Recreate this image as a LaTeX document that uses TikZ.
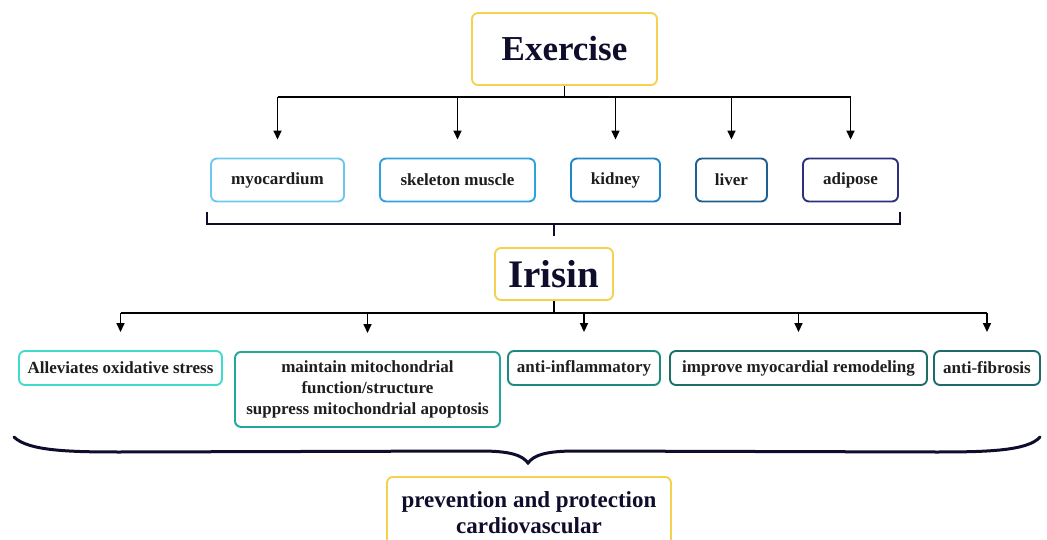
\documentclass[tikz,border=0pt]{standalone}
\usepackage{fontspec}
\setmainfont{Liberation Serif}
\usetikzlibrary{arrows.meta}
\definecolor{yel}{HTML}{F5D24E}
\definecolor{navy}{HTML}{0E0E2C}
\definecolor{labc}{HTML}{1E1E1E}
\definecolor{cmyo}{HTML}{6CC8EE}
\definecolor{cskel}{HTML}{2EA2DA}
\definecolor{ckid}{HTML}{1E86C4}
\definecolor{cliv}{HTML}{1F5E90}
\definecolor{cadi}{HTML}{2E2F7E}
\definecolor{call}{HTML}{40DACF}
\definecolor{cmai}{HTML}{22A89A}
\definecolor{cinf}{HTML}{1C8A7E}
\definecolor{cimp}{HTML}{1B6F67}
\definecolor{cfib}{HTML}{1E6A6D}
\begin{document}
\begin{tikzpicture}[x=1pt,y=-1pt,
  box/.style={draw=#1, line width=1.9pt, rounded corners=6pt, fill=white, align=center,
    inner sep=0pt, text=labc},
  smallbox/.style={box=#1, font=\bfseries\fontsize{17}{21}\selectfont, minimum height=43},
  effbox/.style={box=#1, font=\bfseries\fontsize{17}{21}\selectfont, minimum height=34},
  link/.style={line width=1.6pt, draw=black},
  arr/.style={link, -{Triangle[length=9pt,width=8pt]}},
  brk/.style={line width=2pt, draw=navy},
  brace/.style={line width=3pt, draw=navy, line cap=round}]
\useasboundingbox (0,0) rectangle (1047,540);

% top
\node[box=yel, minimum width=185, minimum height=72, text=navy,
  font=\bfseries\fontsize{35}{40}\selectfont] (ex) at (564.5,49) {Exercise};

% organs
\node[smallbox=cmyo,  minimum width=133] (myo)  at (277.5,180) {myocardium};
\node[smallbox=cskel, minimum width=155] (skel) at (457.5,180) {skeleton muscle};
\node[smallbox=ckid,  minimum width=89]  (kid)  at (615.5,180) {kidney};
\node[smallbox=cliv,  minimum width=71]  (liv)  at (731.5,180) {liver};
\node[smallbox=cadi,  minimum width=95]  (adi)  at (850.5,180) {adipose};

\coordinate (j1) at (564.5,97);
\draw[link] (ex.south) -- (j1);
\draw[link] (myo.north |- j1) -- (adi.north |- j1);
\foreach \n in {myo,skel,kid,liv,adi}
  \draw[arr] (\n.north |- j1) -- ([yshift=18pt]\n.north);

% bracket
\coordinate (bl) at (207,224);
\coordinate (br) at (900,224);
\coordinate (bm) at (554,224);
\draw[brk] ([yshift=12pt]bl) -- (bl) -- (br) -- ([yshift=12pt]br);

% irisin
\node[box=yel, minimum width=118, minimum height=52, text=navy,
  font=\bfseries\fontsize{39}{44}\selectfont] (ir) at (554,274) {Irisin};
\draw[brk] (bm) -- ([yshift=11pt]ir.north);

% effects
\node[effbox=call, minimum width=203] (all) at (120.5,368) {Alleviates oxidative stress};
\node[effbox=cmai, minimum width=265, minimum height=75, anchor=north] (mai) at (367.5,351)
  {maintain mitochondrial\\function/structure\\suppress mitochondrial apoptosis};
\node[effbox=cinf, minimum width=152] (inf) at (584,368) {anti-inflammatory};
\node[effbox=cimp, minimum width=257] (imp) at (798.5,368) {improve myocardial remodeling};
\node[effbox=cfib, minimum width=106] (fib) at (987,368) {anti-fibrosis};

\coordinate (j2) at (554,313);
\draw[link] (ir.south) -- (j2);
\draw[link] (all.north |- j2) -- (fib.north |- j2);
\foreach \n in {all,mai,inf,imp,fib}
  \draw[arr] (\n.north |- j2) -- ([yshift=18pt]\n.north);

% brace
\coordinate (cl) at (14,437);
\coordinate (cr) at (1040,437);
\coordinate (tip) at (528,463);
\draw[brace] (cl) .. controls (28,451) and (70,452) .. (120,452)
  -- (480,451) .. controls (510,451) and (522,455) .. (tip)
  .. controls (534,455) and (546,451) .. (576,451)
  -- (936,452) .. controls (986,452) and (1028,451) .. (cr);

% outcome
\node[box=yel, minimum width=284, minimum height=72, anchor=north, text=navy,
  font=\bfseries\fontsize{23}{26}\selectfont] (out) at (529,476)
  {prevention and protection\\cardiovascular};
\end{tikzpicture}
\end{document}
